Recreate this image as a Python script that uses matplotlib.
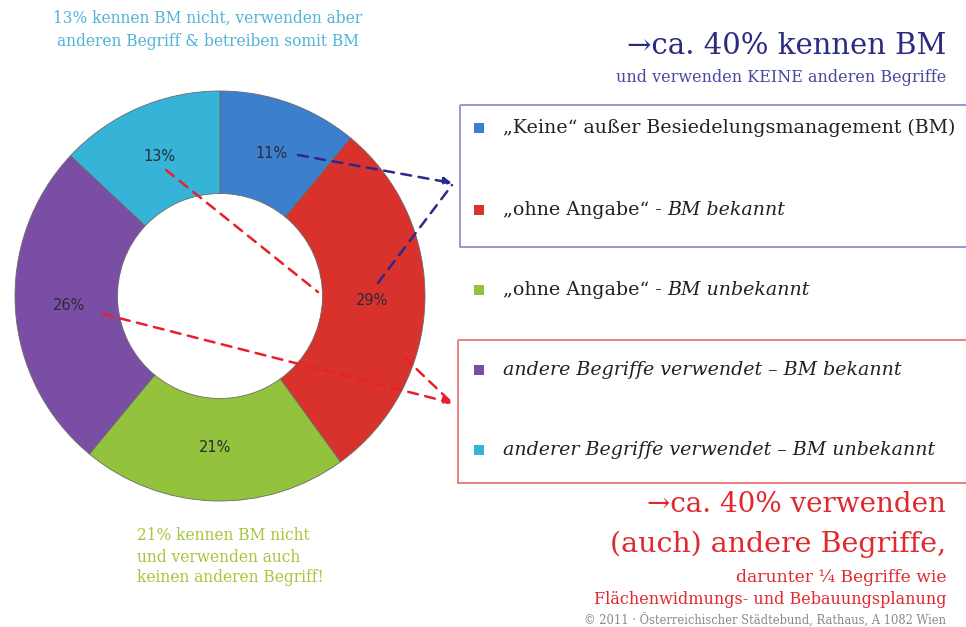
import matplotlib
matplotlib.use("Agg")
import matplotlib.pyplot as plt
from matplotlib.patches import Rectangle
import numpy as np

categories = ["„Keine“ außer Besiedelungsmanagement (BM)",
              "„ohne Angabe“ - BM bekannt",
              "„ohne Angabe“ - BM unbekannt",
              "andere Begriffe verwendet – BM bekannt",
              "anderer Begriffe verwendet – BM unbekannt"]
legend_plain = ["„Keine“ außer Besiedelungsmanagement (BM)", "„ohne Angabe“ - ", "„ohne Angabe“ - ", "", ""]
legend_ital = ["", "BM bekannt", "BM unbekannt",
               "andere Begriffe verwendet – BM bekannt",
               "anderer Begriffe verwendet – BM unbekannt"]
values = [11, 29, 21, 26, 13]
colors = ["#3c7fcc", "#d9312b", "#93c23c", "#7b4ea6", "#36b4d8"]
pct_labels = ["11%", "29%", "21%", "26%", "13%"]

W, H = 966, 627
fig = plt.figure(figsize=(W / 100, H / 100), dpi=100)
fig.patch.set_facecolor("white")

# pie axes: center (220,296), radius 205 px
cx, cy, R = 220, 296, 205
axp = fig.add_axes([(cx - R) / W, 1 - (cy + R) / H, 2 * R / W, 2 * R / H])
wedges, _ = axp.pie(values, colors=colors, startangle=90, counterclock=False,
                    radius=1.0, wedgeprops=dict(width=0.5, edgecolor="#6a6a6a", linewidth=0.6))
axp.set_xlim(-1, 1)
axp.set_ylim(-1, 1)
axp.set_aspect("equal")
axp.axis("off")

cum = np.cumsum([0] + values)
for i, v in enumerate(values):
    mid = (cum[i] + cum[i + 1]) / 2 / sum(values) * 360
    ang = np.deg2rad(90 - mid)
    r = 0.74
    x, y = r * np.cos(ang), r * np.sin(ang)
    axp.text(x, y, pct_labels[i], ha="center", va="center", fontsize=10.5,
             color="#2a2a3a", family="DejaVu Sans")

# overlay axes in pixel coordinates
ov = fig.add_axes([0, 0, 1, 1], zorder=5)
ov.set_xlim(0, W)
ov.set_ylim(H, 0)
ov.axis("off")
ov.patch.set_alpha(0)

serif = "DejaVu Serif"

# dashed arrows
blue_c = "#2a2a8c"
red_c = "#e8202a"
ov.annotate("", xy=(452, 183), xytext=(298, 155),
            arrowprops=dict(arrowstyle="-|>", ls=(0, (4, 3)), color=blue_c, lw=1.8,
                            mutation_scale=12, shrinkA=0, shrinkB=0))
ov.annotate("", xy=(452, 185), xytext=(378, 283),
            arrowprops=dict(arrowstyle="-", ls=(0, (4, 3)), color=blue_c, lw=1.8,
                            shrinkA=0, shrinkB=0))
ov.annotate("", xy=(318, 292), xytext=(166, 170),
            arrowprops=dict(arrowstyle="-", ls=(0, (4, 3)), color=red_c, lw=1.8,
                            shrinkA=0, shrinkB=0))
ov.annotate("", xy=(452, 403), xytext=(103, 314),
            arrowprops=dict(arrowstyle="-|>", ls=(0, (4, 3)), color=red_c, lw=1.8,
                            mutation_scale=12, shrinkA=0, shrinkB=0))
ov.annotate("", xy=(452, 403), xytext=(404, 357),
            arrowprops=dict(arrowstyle="-", ls=(0, (4, 3)), color=red_c, lw=1.8,
                            shrinkA=0, shrinkB=0))

# boxes
ov.add_patch(Rectangle((460, 105), 520, 142, fill=False, ec="#8888cc", lw=1.2))
ov.add_patch(Rectangle((458, 340), 520, 143, fill=False, ec="#e86a6a", lw=1.2))

# legend
rows_y = [128, 210, 290, 370, 450]
fs_leg = 13.7
for i in range(5):
    ov.scatter([479], [rows_y[i]], marker="s", s=55, color=colors[i], edgecolors="none")
    t = ov.text(503, rows_y[i], legend_plain[i], ha="left", va="center",
                fontsize=fs_leg, family=serif, color="#222222")
    if legend_ital[i]:
        if legend_plain[i]:
            fig.canvas.draw()
            bb = t.get_window_extent()
            x0 = bb.x1
        else:
            x0 = 503
        ov.text(x0, rows_y[i], legend_ital[i], ha="left", va="center",
                fontsize=fs_leg, family=serif, style="italic", color="#222222")

# texts
ov.text(208, 18, "13% kennen BM nicht, verwenden aber", ha="center", va="center",
        fontsize=11.2, family=serif, color="#4fb4d8")
ov.text(208, 42, "anderen Begriff & betreiben somit BM", ha="center", va="center",
        fontsize=11.2, family=serif, color="#4fb4d8")

ov.text(946, 46, "→ca. 40% kennen BM", ha="right", va="center",
        fontsize=21, family=serif, color="#2b2b80")
ov.text(946, 78, "und verwenden KEINE anderen Begriffe", ha="right", va="center",
        fontsize=11.5, family=serif, color="#4848a0")

ov.text(137, 536, "21% kennen BM nicht", ha="left", va="center",
        fontsize=11.2, family=serif, color="#a6c63c")
ov.text(137, 557, "und verwenden auch", ha="left", va="center",
        fontsize=11.2, family=serif, color="#a6c63c")
ov.text(137, 578, "keinen anderen Begriff!", ha="left", va="center",
        fontsize=11.2, family=serif, color="#a6c63c")

ov.text(946, 505, "→ca. 40% verwenden", ha="right", va="center",
        fontsize=20, family=serif, color="#e0282e")
ov.text(946, 544, "(auch) andere Begriffe,", ha="right", va="center",
        fontsize=20.5, family=serif, color="#e0282e")
ov.text(946, 578, "darunter ¼ Begriffe wie", ha="right", va="center",
        fontsize=12.3, family=serif, color="#e0282e")
ov.text(946, 600, "Flächenwidmungs- und Bebauungsplanung", ha="right", va="center",
        fontsize=11.5, family=serif, color="#e0282e")
ov.text(946, 621, "© 2011 · Österreichischer Städtebund, Rathaus, A 1082 Wien", ha="right", va="center",
        fontsize=8.3, family=serif, color="#888888")

fig.savefig("out.png", dpi=100)
